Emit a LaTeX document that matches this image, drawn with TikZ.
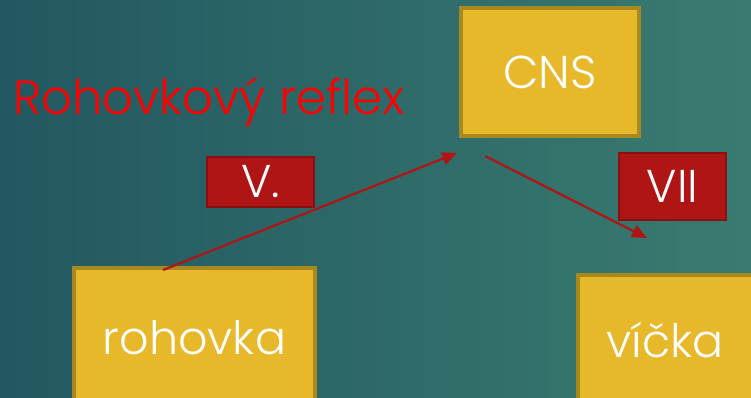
\documentclass[tikz,border=0pt]{standalone}
\usepackage{fontspec}
\setmainfont{Poppins}[UprightFont=* Light]
\usetikzlibrary{arrows.meta}
\definecolor{bgL}{HTML}{225861}
\definecolor{bgR}{HTML}{3A7B70}
\definecolor{goldF}{HTML}{E6B82A}
\definecolor{goldD}{HTML}{A8891F}
\definecolor{redF}{HTML}{B01515}
\definecolor{redD}{HTML}{881010}
\definecolor{arr}{HTML}{B01515}
\tikzset{
  goldbox/.style={draw=goldD, line width=3.5pt, fill=goldF, text=white, inner sep=0pt, font=\fontsize{46}{46}\selectfont},
  redbox/.style={draw=redD, line width=2.5pt, fill=redF, text=white, inner sep=0pt, font=\fontsize{46}{46}\selectfont},
  conn/.style={draw=arr, line width=2.2pt, -{Triangle[length=15pt,width=13pt]}}
}
\begin{document}
\begin{tikzpicture}[x=1pt,y=1pt]
\useasboundingbox (0,0) rectangle (751,398);
\shade[left color=bgL, right color=bgR] (0,0) rectangle (751,398);
\node[goldbox, minimum width=178pt, minimum height=128pt] (cns) at (550,326) {CNS};
\node[goldbox, minimum width=241pt, minimum height=140pt] (roh) at (194.5,60) {rohovka};
\node[goldbox, minimum width=200pt, minimum height=140pt, anchor=north west] (vic) at (576,124.5) {};
\node[text=white, font=\fontsize{46}{46}\selectfont] (victxt) at (665,58) {víčka};
\node[redbox, minimum width=107pt, minimum height=50pt] (v5) at (260.5,216) {V.};
\node[redbox, minimum width=107pt, minimum height=67pt] (v7) at (672.5,211.5) {VII};
\node[text=red, font=\fontsize{48}{48}\selectfont, anchor=west, inner sep=0pt] (title) at (13,296) {Rohovkový reflex};
\coordinate (a1s) at (163,128);
\coordinate (a1e) at (457,245);
\coordinate (a2s) at (485,242);
\coordinate (a2e) at (647,160);
\draw[conn] (a1s) -- (a1e);
\draw[conn] (a2s) -- (a2e);
\end{tikzpicture}
\end{document}
